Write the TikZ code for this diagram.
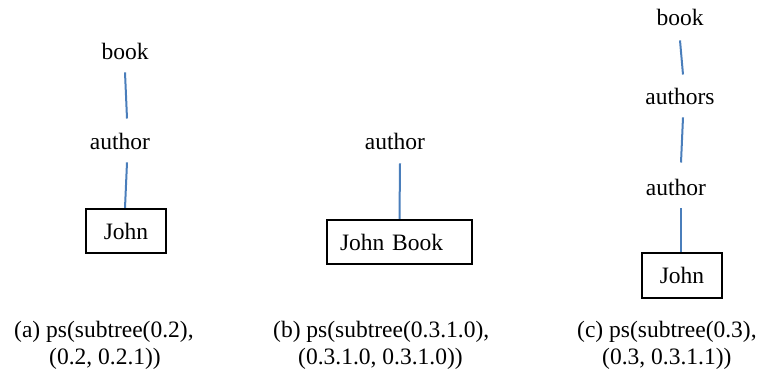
\documentclass[tikz,border=0pt]{standalone}
\usepackage{fontspec}
\setmainfont{Liberation Serif}
\begin{document}
\begin{tikzpicture}[x=1pt,y=-1pt,
  every node/.style={font=\fontsize{23.5}{28}\selectfont},
  lbl/.style={inner sep=0pt,anchor=base},
  leafbox/.style={draw=black,line width=2.2pt,minimum height=44pt,inner sep=0pt},
  edge/.style={draw=edgeblue,line width=2pt},
  caption/.style={inner sep=0pt,anchor=base west}]
\definecolor{edgeblue}{RGB}{74,126,187}
\useasboundingbox (0,0) rectangle (758,376);

% tree (a)
\node[lbl] (bookA) at (125,59) {book};
\node[lbl] (authA) at (120,149) {author};
\node[leafbox,minimum width=80pt] (johnA) at (126,231) {John};
\draw[edge] ([yshift=-13pt]bookA.south) -- ([xshift=7pt,yshift=14pt]authA.north);
\draw[edge] ([xshift=7pt,yshift=-13pt]authA.south) -- ([xshift=-1pt]johnA.north);

% tree (b)
\node[lbl] (authB) at (395,149) {author};
\node[leafbox,minimum width=145pt,inner xsep=13pt,text width=119pt,align=left] (johnB) at (399.5,242) {John Book};
\draw[edge] ([xshift=5pt,yshift=-14pt]authB.south) -- (johnB.north);

% tree (c)
\node[lbl] (bookC) at (680,25) {book};
\node[lbl] (authsC) at (680,104) {authors};
\node[lbl] (authC) at (676,195) {author};
\node[leafbox,minimum width=80pt,minimum height=45pt] (johnC) at (682,275.5) {John};
\draw[edge] ([yshift=-15pt]bookC.south) -- ([xshift=3pt,yshift=13pt]authsC.north);
\draw[edge] ([xshift=3pt,yshift=-13pt]authsC.south) -- ([xshift=5pt,yshift=16pt]authC.north);
\draw[edge] ([xshift=5pt,yshift=-13pt]authC.south) -- ([xshift=-1pt]johnC.north);

% captions
\node[caption] (capA1) at (14,337) {(a) ps(subtree(0.2),};
\node[caption] (capA2) at (49,364) {(0.2, 0.2.1))};
\node[caption] (capB1) at (273,337) {(b) ps(subtree(0.3.1.0),};
\node[caption] (capB2) at (298,364) {(0.3.1.0, 0.3.1.0))};
\node[caption] (capC1) at (577,337) {(c) ps(subtree(0.3),};
\node[caption] (capC2) at (602,364) {(0.3, 0.3.1.1))};
\end{tikzpicture}
\end{document}
